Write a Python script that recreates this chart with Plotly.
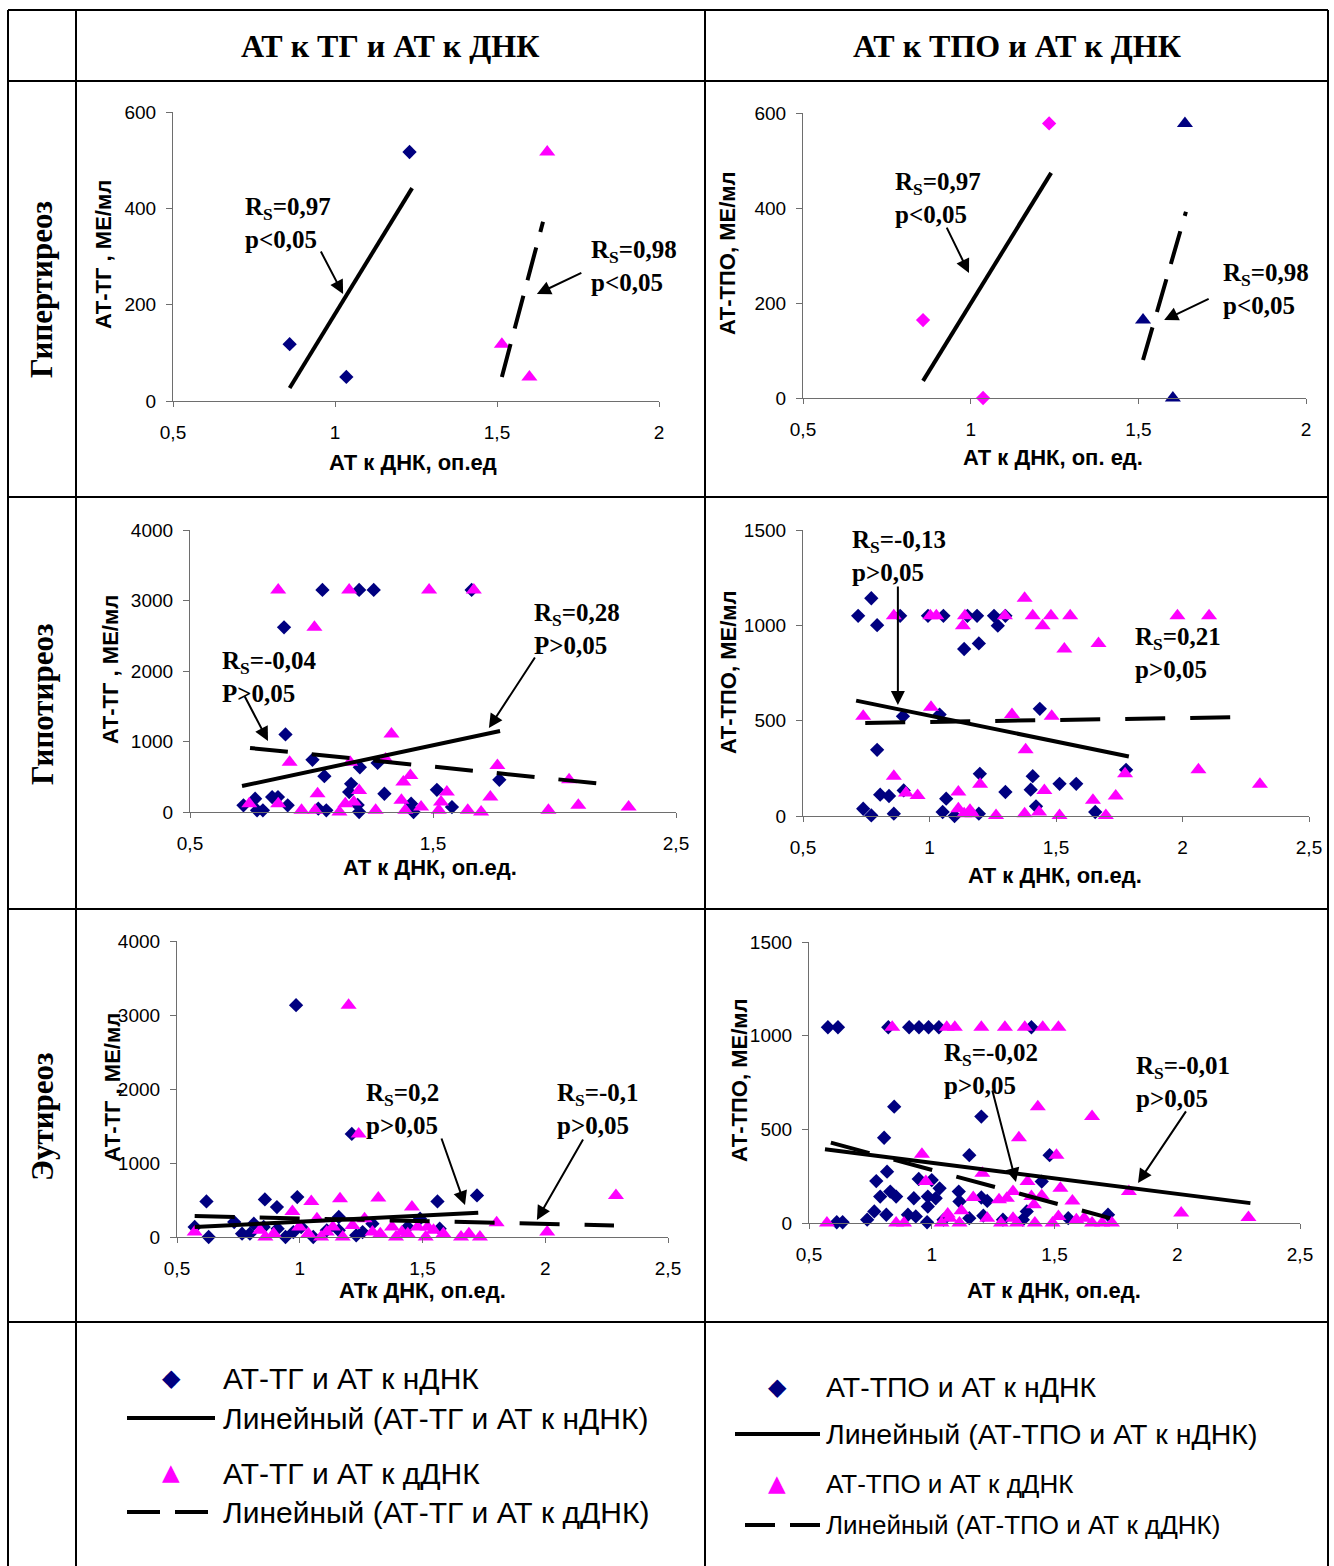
import plotly.graph_objects as go

W, H = 1334, 1566
NAVY = "#000080"
MAG = "#FF00FF"
AXIS = "#6e6e6e"

# ---------------- DATA ----------------
# Panel 1: Hyperthyroidism, AT-TG vs AT to DNA
hyper_tg_n_x = [0.86, 1.035, 1.23]
hyper_tg_n_y = [118, 50, 517]
hyper_tg_d_x = [1.515, 1.60, 1.655]
hyper_tg_d_y = [118, 50, 517]
hyper_tg_n_trend_x = [0.86, 1.238]
hyper_tg_n_trend_y = [27, 442]
hyper_tg_d_trend_x = [1.515, 1.642]
hyper_tg_d_trend_y = [50, 372]

# Panel 2: Hyperthyroidism, AT-TPO vs AT to DNA
hyper_tpo_n_x = [0.858, 1.037, 1.234]
hyper_tpo_n_y = [164, 0, 578]
hyper_tpo_d_x = [1.514, 1.603, 1.639]
hyper_tpo_d_y = [164, 0, 578]
hyper_tpo_n_trend_x = [0.858, 1.24]
hyper_tpo_n_trend_y = [36, 474]
hyper_tpo_d_trend_x = [1.514, 1.642]
hyper_tpo_d_trend_y = [80, 392]

# Panel 3: Hypothyroidism, AT-TG
hypo_tg_n_x = [1.045, 1.196, 1.256, 1.659, 0.887, 0.893, 1.004, 1.053, 1.163, 1.155,
               1.199, 1.272, 1.30, 1.41, 1.516, 1.578, 1.773, 0.72, 0.768, 0.776,
               0.80, 0.838, 0.862, 0.902, 1.028, 1.061, 1.19, 1.196, 1.42]
hypo_tg_n_y = [3150, 3150, 3150, 3150, 2620, 1100, 740, 508, 400, 282,
               635, 696, 259, 118, 315, 70, 456, 94, 188, 24,
               24, 212, 212, 94, 47, 24, 100, 0, 0]
hypo_tg_d_x = [0.863, 1.155, 1.484, 1.668, 1.012, 1.329, 0.91, 1.159, 1.305, 1.765,
               2.06, 1.407, 1.378, 1.025, 1.196, 1.557, 1.736, 0.744, 0.863, 0.959,
               1.015, 1.115, 1.139, 1.174, 1.264, 1.37, 1.386, 1.451, 1.524, 1.533,
               1.643, 1.698, 1.975, 2.098, 2.305]
hypo_tg_d_y = [3150, 3150, 3150, 3150, 2620, 1106, 706, 706, 753, 659,
               456, 518, 424, 259, 306, 282, 212, 118, 118, 24,
               24, 0, 118, 141, 24, 165, 24, 70, 24, 141,
               24, 0, 24, 94, 70]
hypo_tg_n_trend_x = [0.714, 1.776]
hypo_tg_n_trend_y = [369, 1149]
hypo_tg_d_trend_x = [0.747, 2.204]
hypo_tg_d_trend_y = [908, 397]

# Panel 4: Hypothyroidism, AT-TPO
hypo_tpo_n_x = [0.718, 0.77, 0.793, 0.884, 0.994, 1.055, 1.15, 1.188, 1.255, 1.30,
                1.27, 1.137, 1.195, 0.895, 1.04, 1.436, 0.793, 1.777, 1.199, 1.408,
                1.40, 1.514, 1.58, 1.30, 0.805, 0.84, 0.898, 1.066, 0.738, 0.77,
                0.859, 1.052, 1.099, 1.195, 1.421, 1.655]
hypo_tpo_n_y = [1050, 1142, 1001, 1050, 1050, 1050, 1050, 1050, 1050, 1050,
                998, 876, 905, 523, 532, 562, 347, 242, 221, 209,
                138, 169, 169, 126, 112, 105, 134, 91, 38, 3,
                12, 21, 0, 12, 51, 21]
hypo_tpo_d_x = [0.859, 1.003, 1.027, 1.14, 1.132, 1.298, 1.376, 1.408, 1.447, 1.48,
                1.556, 1.533, 1.668, 1.98, 2.105, 0.738, 1.006, 1.326, 1.483, 1.38,
                1.773, 2.063, 2.306, 0.859, 1.2, 0.907, 0.953, 1.114, 1.454, 1.736,
                1.646, 1.114, 1.137, 1.16, 1.17, 1.263, 1.376, 1.433, 1.514, 1.697]
hypo_tpo_d_y = [1050, 1050, 1050, 1050, 998, 1050, 1142, 1050, 998, 1050,
                1050, 876, 905, 1050, 1050, 523, 570, 532, 523, 347,
                221, 242, 166, 209, 166, 120, 108, 126, 134, 105,
                82, 38, 12, 30, 12, 3, 12, 21, 3, 3]
hypo_tpo_n_trend_x = [0.71, 1.788]
hypo_tpo_n_trend_y = [605, 312]
hypo_tpo_d_trend_x = [0.746, 2.21]
hypo_tpo_d_trend_y = [488, 518]

# Panel 5: Euthyroidism, AT-TG
eu_tg_n_x = [0.985, 1.212, 0.62, 0.858, 0.907, 0.99, 1.561, 1.722, 1.159, 0.572,
             0.629, 0.733, 0.765, 0.797, 0.813, 0.853, 0.91, 0.942, 0.974, 1.006,
             1.055, 1.11, 1.159, 1.23, 1.256, 1.296, 1.44, 1.49, 1.57]
eu_tg_n_y = [3133, 1393, 481, 508, 404, 539, 481, 562, 270, 135,
             0, 202, 45, 45, 180, 135, 112, 0, 67, 135,
             0, 90, 90, 22, 67, 180, 135, 247, 112]
eu_tg_d_x = [1.199, 1.24, 2.288, 1.047, 1.164, 1.32, 1.457, 0.97, 0.572, 0.86,
             0.894, 0.838, 0.998, 1.035, 1.07, 1.087, 1.11, 1.135, 1.175, 1.215,
             1.264, 1.296, 1.328, 1.376, 1.392, 1.416, 1.44, 1.48, 1.513, 1.521,
             1.545, 1.585, 1.657, 1.689, 1.734, 1.802, 2.008]
eu_tg_d_y = [3133, 1393, 562, 481, 517, 526, 404, 346, 67, 0,
             45, 90, 135, 45, 247, 0, 67, 135, 0, 157,
             247, 67, 45, 135, 0, 67, 45, 135, 0, 135,
             90, 45, 0, 45, 0, 193, 67]
eu_tg_n_trend_x = [0.572, 1.727]
eu_tg_n_trend_y = [135, 328]
eu_tg_d_trend_x = [0.572, 2.28]
eu_tg_d_trend_y = [283, 157]

# Panel 6: Euthyroidism, AT-TPO
eu_tpo_n_x = [0.577, 0.618, 0.823, 0.908, 0.948, 0.987, 1.029, 1.406, 0.847, 1.202,
              0.806, 1.153, 1.48, 0.818, 0.774, 0.947, 1.0, 1.448, 0.79, 0.831,
              0.855, 0.927, 0.984, 1.016, 1.032, 1.11, 1.113, 1.202, 1.226, 0.984,
              0.766, 0.737, 0.613, 0.637, 0.815, 0.903, 0.935, 0.981, 1.048, 1.153,
              1.21, 1.29, 1.371, 1.387, 1.556, 1.718]
eu_tpo_n_y = [1045, 1045, 1045, 1045, 1045, 1045, 1045, 1045, 621, 568,
              455, 362, 362, 274, 224, 235, 229, 221, 141, 168,
              141, 132, 141, 132, 185, 168, 115, 136, 118, 88,
              62, 18, 4, 4, 44, 44, 35, 4, 18, 26,
              39, 18, 18, 62, 26, 44]
eu_tpo_d_x = [0.839, 1.061, 1.094, 1.202, 1.298, 1.379, 1.452, 1.516, 1.432, 1.653,
              1.355, 0.96, 1.508, 0.976, 1.206, 1.39, 1.524, 1.803, 1.169, 1.274,
              1.306, 1.331, 1.406, 1.448, 1.573, 1.416, 1.065, 1.121, 2.016, 2.29,
              0.573, 0.855, 0.887, 1.04, 1.073, 1.113, 1.226, 1.282, 1.331, 1.347,
              1.42, 1.492, 1.516, 1.589, 1.653, 1.694, 1.734, 1.621]
eu_tpo_d_y = [1045, 1045, 1045, 1045, 1045, 1045, 1045, 1045, 621, 568,
              455, 367, 362, 221, 265, 221, 185, 168, 136, 124,
              132, 168, 141, 146, 118, 97, 48, 65, 53, 30,
              0, 0, 0, 0, 26, 0, 26, 0, 26, 0,
              0, 0, 35, 18, 0, 0, 0, 26]
eu_tpo_n_trend_x = [0.565, 2.298]
eu_tpo_n_trend_y = [394, 106]
eu_tpo_d_trend_x = [0.589, 1.726]
eu_tpo_d_trend_y = [429, 26]

# Text
col_headers = ["АТ к ТГ и АТ к ДНК", "АТ к ТПО и АТ к ДНК"]
row_labels = ["Гипертиреоз", "Гипотиреоз", "Эутиреоз"]
legend_left = ["АТ-ТГ и АТ к нДНК", "Линейный (АТ-ТГ и АТ к нДНК)",
               "АТ-ТГ и АТ к дДНК", "Линейный (АТ-ТГ и АТ к дДНК)"]
legend_right = ["АТ-ТПО и АТ к нДНК", "Линейный (АТ-ТПО и АТ к нДНК)",
                "АТ-ТПО и АТ к дДНК", "Линейный (АТ-ТПО и АТ к дДНК)"]


def px(x):
    return x / W


def py(y):
    return 1 - y / H


SANS = "Liberation Sans, Arial, sans-serif"
SERIF = "Liberation Serif, Times New Roman, serif"

panels = [
    dict(dom=(173, 659, 112, 401), xr=[0.5, 2], xd=0.5, yr=[0, 600], yd=200,
         n=(hyper_tg_n_x, hyper_tg_n_y), d=(hyper_tg_d_x, hyper_tg_d_y),
         nt=(hyper_tg_n_trend_x, hyper_tg_n_trend_y), dt=(hyper_tg_d_trend_x, hyper_tg_d_trend_y),
         ncol=NAVY, dcol=MAG, dash="34px,16px",
         ytitle="АТ-ТГ , МЕ/мл", ytpos=(103, 255), xtitle="АТ к ДНК, оп.ед", xtpos=(413, 462),
         texts=[("R<sub>S</sub>=0,97<br>p&lt;0,05", 243, 212), ("R<sub>S</sub>=0,98<br>p&lt;0,05", 589, 255)],
         arrows=[(1.025, 222, -23, -44), (1.623, 222, 46, -22)]),
    dict(dom=(803, 1306, 113, 398), xr=[0.5, 2], xd=0.5, yr=[0, 600], yd=200,
         n=(hyper_tpo_n_x, hyper_tpo_n_y), d=(hyper_tpo_d_x, hyper_tpo_d_y),
         nt=(hyper_tpo_n_trend_x, hyper_tpo_n_trend_y), dt=(hyper_tpo_d_trend_x, hyper_tpo_d_trend_y),
         ncol=MAG, dcol=NAVY, dash="34px,16px",
         ytitle="АТ-ТПО, МЕ/мл", ytpos=(727, 253), xtitle="АТ к ДНК, оп. ед.", xtpos=(1053, 457),
         texts=[("R<sub>S</sub>=0,97<br>p&lt;0,05", 893, 187), ("R<sub>S</sub>=0,98<br>p&lt;0,05", 1221, 278)],
         arrows=[(0.995, 263, -23, -47), (1.577, 164, 46, -22)]),
    dict(dom=(190, 676, 530, 812), xr=[0.5, 2.5], xd=1, yr=[0, 4000], yd=1000,
         n=(hypo_tg_n_x, hypo_tg_n_y), d=(hypo_tg_d_x, hypo_tg_d_y),
         nt=(hypo_tg_n_trend_x, hypo_tg_n_trend_y), dt=(hypo_tg_d_trend_x, hypo_tg_d_trend_y),
         ncol=NAVY, dcol=MAG, dash="38px,24px",
         ytitle="АТ-ТГ , МЕ/мл", ytpos=(110, 670), xtitle="АТ к ДНК, оп.ед.", xtpos=(430, 867),
         texts=[("R<sub>S</sub>=-0,04<br>P&gt;0,05", 220, 666), ("R<sub>S</sub>=0,28<br>P&gt;0,05", 532, 618)],
         arrows=[(0.821, 1007, -24, -46), (1.73, 1191, 47, -72)]),
    dict(dom=(803, 1309, 530, 816), xr=[0.5, 2.5], xd=0.5, yr=[0, 1500], yd=500,
         n=(hypo_tpo_n_x, hypo_tpo_n_y), d=(hypo_tpo_d_x, hypo_tpo_d_y),
         nt=(hypo_tpo_n_trend_x, hypo_tpo_n_trend_y), dt=(hypo_tpo_d_trend_x, hypo_tpo_d_trend_y),
         ncol=NAVY, dcol=MAG, dash="40px,25px",
         ytitle="АТ-ТПО, МЕ/мл", ytpos=(728, 672), xtitle="АТ к ДНК, оп.ед.", xtpos=(1055, 876),
         texts=[("R<sub>S</sub>=-0,13<br>p&gt;0,05", 850, 545), ("R<sub>S</sub>=0,21<br>p&gt;0,05", 1133, 642)],
         arrows=[(0.875, 582, 0, -120)]),
    dict(dom=(177, 668, 941, 1237), xr=[0.5, 2.5], xd=0.5, yr=[0, 4000], yd=1000,
         n=(eu_tg_n_x, eu_tg_n_y), d=(eu_tg_d_x, eu_tg_d_y),
         nt=(eu_tg_n_trend_x, eu_tg_n_trend_y), dt=(eu_tg_d_trend_x, eu_tg_d_trend_y),
         ncol=NAVY, dcol=MAG, dash="40px,25px",
         ytitle="АТ-ТГ , МЕ/мл", ytpos=(112, 1088), xtitle="АТк ДНК, оп.ед.", xtpos=(422, 1290),
         texts=[("R<sub>S</sub>=0,2<br>p&gt;0,05", 364, 1098), ("R<sub>S</sub>=-0,1<br>p&gt;0,05", 555, 1098)],
         arrows=[(1.673, 432, -24, -68), (1.966, 230, 47, -82)]),
    dict(dom=(809, 1300, 942, 1223), xr=[0.5, 2.5], xd=0.5, yr=[0, 1500], yd=500,
         n=(eu_tpo_n_x, eu_tpo_n_y), d=(eu_tpo_d_x, eu_tpo_d_y),
         nt=(eu_tpo_n_trend_x, eu_tpo_n_trend_y), dt=(eu_tpo_d_trend_x, eu_tpo_d_trend_y),
         ncol=NAVY, dcol=MAG, dash="40px,25px",
         ytitle="АТ-ТПО, МЕ/мл", ytpos=(739, 1080), xtitle="АТ к ДНК, оп.ед.", xtpos=(1054, 1290),
         texts=[("R<sub>S</sub>=-0,02<br>p&gt;0,05", 942, 1058), ("R<sub>S</sub>=-0,01<br>p&gt;0,05", 1134, 1071)],
         arrows=[(1.343, 219, -24, -93), (1.84, 214, 49, -73)]),
]

fig = go.Figure()
annotations = []
shapes = []
layout = {}


def centered(text, cx, cy, font, angle=0):
    annotations.append(dict(text=text, x=px(cx), y=py(cy), xref="paper", yref="paper",
                            xanchor="center", yanchor="middle", showarrow=False,
                            textangle=angle, font=font))


for i, p in enumerate(panels, start=1):
    xa = "x" if i == 1 else f"x{i}"
    ya = "y" if i == 1 else f"y{i}"
    x0, x1, y0, y1 = p["dom"]
    fig.add_trace(go.Scatter(x=p["n"][0], y=p["n"][1], mode="markers", xaxis=xa, yaxis=ya,
                             marker=dict(symbol="diamond", size=11, color=p["ncol"]),
                             cliponaxis=False, showlegend=False))
    fig.add_trace(go.Scatter(x=p["d"][0], y=p["d"][1], mode="markers", xaxis=xa, yaxis=ya,
                             marker=dict(symbol="triangle-up", size=14, color=p["dcol"]),
                             cliponaxis=False, showlegend=False))
    fig.add_trace(go.Scatter(x=p["nt"][0], y=p["nt"][1], mode="lines", xaxis=xa, yaxis=ya,
                             line=dict(color="black", width=4), showlegend=False))
    fig.add_trace(go.Scatter(x=p["dt"][0], y=p["dt"][1], mode="lines", xaxis=xa, yaxis=ya,
                             line=dict(color="black", width=4, dash=p["dash"]), showlegend=False))
    axkey = "xaxis" if i == 1 else f"xaxis{i}"
    aykey = "yaxis" if i == 1 else f"yaxis{i}"
    layout[axkey] = dict(domain=[px(x0), px(x1)], range=p["xr"], dtick=p["xd"], tick0=0.5,
                         anchor=ya, showline=True, linecolor=AXIS, linewidth=1.2,
                         ticks="outside", ticklen=5, tickcolor=AXIS, showgrid=False,
                         zeroline=False, tickfont=dict(family=SANS, size=19, color="black"),
                         ticklabelstandoff=9, fixedrange=True, automargin=False)
    layout[aykey] = dict(domain=[py(y1), py(y0)], range=p["yr"], dtick=p["yd"], tick0=0,
                         anchor=xa, showline=True, linecolor=AXIS, linewidth=1.2,
                         ticks="outside", ticklen=6, tickcolor=AXIS, showgrid=False,
                         zeroline=False, tickfont=dict(family=SANS, size=19, color="black"),
                         ticklabelstandoff=6, fixedrange=True, automargin=False)
    centered(p["ytitle"], p["ytpos"][0], p["ytpos"][1],
             dict(family=SANS, size=22, color="black", weight="bold"), angle=-90)
    centered(p["xtitle"], p["xtpos"][0], p["xtpos"][1],
             dict(family=SANS, size=22, color="black", weight="bold"))
    for t, tx, tb in p["texts"]:
        annotations.append(dict(text=t, x=px(tx), y=py(tb - 21), xref="paper", yref="paper",
                                xanchor="left", yanchor="top", align="left", showarrow=False,
                                font=dict(family=SERIF, size=25, color="black", weight="bold")))
    for hx, hy, ax, ay in p["arrows"]:
        annotations.append(dict(text="", x=hx, y=hy, xref=xa, yref=ya, ax=ax, ay=ay,
                                showarrow=True, arrowhead=2, arrowsize=1.4, arrowwidth=2,
                                arrowcolor="black", standoff=0))

# Table grid
for yy in [10, 81, 497, 909, 1322]:
    shapes.append(dict(type="line", xref="paper", yref="paper", x0=px(8), x1=px(1328),
                       y0=py(yy), y1=py(yy), line=dict(color="black", width=2)))
for xx in [8, 76, 705, 1328]:
    shapes.append(dict(type="line", xref="paper", yref="paper", x0=px(xx), x1=px(xx),
                       y0=py(10), y1=py(1566), line=dict(color="black", width=2)))

# Headers and row labels
for txt, cx in zip(col_headers, [390, 1017]):
    centered(txt, cx, 46, dict(family=SERIF, size=32, color="black", weight="bold"))
for txt, cy in zip(row_labels, [290, 705, 1117]):
    centered(txt, 42, cy, dict(family=SERIF, size=31, color="black", weight="bold"), angle=-90)


# Legend (drawn in the bottom row)
def legend_block(labels, sym_x, line_x0, line_x1, dline_x0, text_x, ys, sizes, dash):
    centered("◆", sym_x, ys[0], dict(family="DejaVu Sans", size=24, color=NAVY))
    centered("▲", sym_x, ys[2] - 1, dict(family="DejaVu Sans", size=23, color=MAG))
    shapes.append(dict(type="line", xref="paper", yref="paper", x0=px(line_x0), x1=px(line_x1),
                       y0=py(ys[1]), y1=py(ys[1]), line=dict(color="black", width=4)))
    shapes.append(dict(type="line", xref="paper", yref="paper", x0=px(dline_x0), x1=px(line_x1),
                       y0=py(ys[3]), y1=py(ys[3]), line=dict(color="black", width=4, dash=dash)))
    for lab, yy, sz in zip(labels, ys, sizes):
        annotations.append(dict(text=lab, x=px(text_x), y=py(yy), xref="paper", yref="paper",
                                xanchor="left", yanchor="middle", showarrow=False,
                                font=dict(family=SANS, size=sz, color="black")))


legend_block(legend_left, 171, 127, 215, 127, 221, [1378, 1418, 1473, 1512],
             [30, 30, 30, 30], "33px,15px")
legend_block(legend_right, 777, 735, 820, 745, 824, [1387, 1434, 1484, 1525],
             [28.5, 28.5, 26, 26], "30px,15px")

fig.update_layout(width=W, height=H, margin=dict(l=0, r=0, t=0, b=0, autoexpand=False),
                  paper_bgcolor="white", plot_bgcolor="white",
                  separators=", ", showlegend=False,
                  annotations=annotations, shapes=shapes, **layout)

fig.write_html("out.html", config={"displayModeBar": False},
               post_script="document.body.style.margin='0';document.body.style.padding='0';")
